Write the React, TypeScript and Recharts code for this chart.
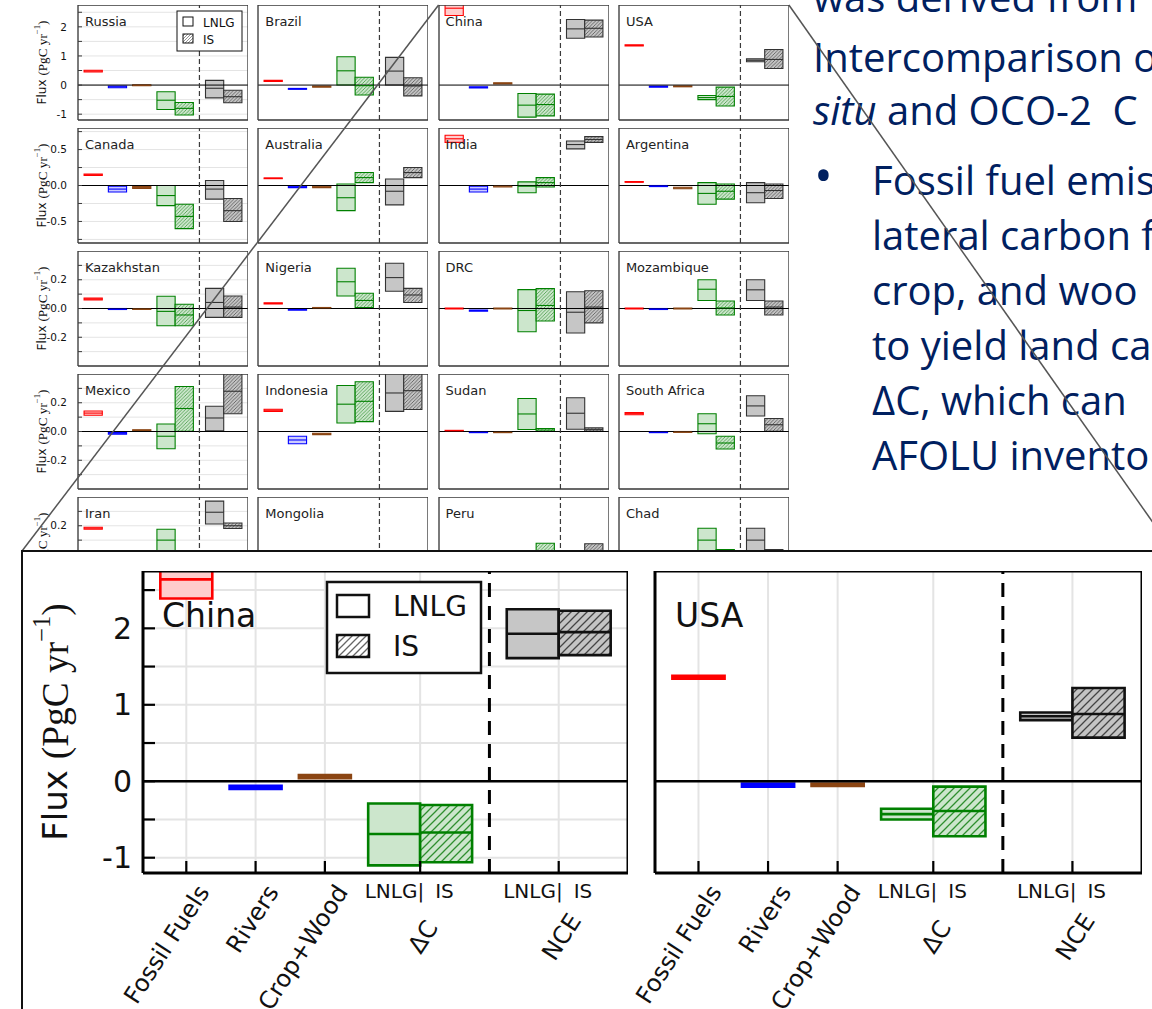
import {
  CartesianGrid,
  ComposedChart,
  ReferenceArea,
  ReferenceLine,
  Scatter,
  XAxis,
  YAxis,
} from 'recharts'

// each entry: [low, median, high] in PgC/yr
type Range = [number, number, number]
type Kind = 'ff' | 'rivers' | 'crop' | 'dcLnlg' | 'dcIs' | 'nceLnlg' | 'nceIs'

const SLOT_KIND: Kind[] = ['ff', 'rivers', 'crop', 'dcLnlg', 'dcIs', 'nceLnlg', 'nceIs']
const SLOT_X = [0, 1, 2, 3, 3.75, 5, 5.75]
const BOX_HALF = 0.375
const X_DOMAIN: [number, number] = [-0.625, 6.375]
const X_TICKS = [0, 1, 2, 3.375, 5.375]
const X_LABELS = ['Fossil Fuels', 'Rivers', 'Crop+Wood', 'ΔC', 'NCE']
const PAIR_LABELS = ['LNLG|', 'IS']
const SPLIT_X = 4.375
const LEGEND_ITEMS = [
  { name: 'LNLG', hatched: false },
  { name: 'IS', hatched: true },
]

const russia: Range[] = [[0.45, 0.48, 0.51], [-0.09, -0.06, -0.03], [-0.025, -0.01, 0.005], [-0.84, -0.52, -0.23], [-1.03, -0.8, -0.6], [-0.44, -0.11, 0.16], [-0.61, -0.4, -0.18]]
const brazil: Range[] = [[0.12, 0.14, 0.16], [-0.145, -0.13, -0.115], [-0.07, -0.05, -0.03], [0.0, 0.49, 0.97], [-0.34, -0.02, 0.27], [0.0, 0.48, 0.95], [-0.37, -0.03, 0.25]]
const china: Range[] = [[2.39, 2.64, 2.9], [-0.1, -0.08, -0.06], [0.04, 0.06, 0.08], [-1.1, -0.69, -0.29], [-1.06, -0.67, -0.31], [1.61, 1.93, 2.25], [1.65, 1.95, 2.23]]
const usa: Range[] = [[1.34, 1.36, 1.38], [-0.07, -0.05, -0.03], [-0.06, -0.045, -0.03], [-0.5, -0.43, -0.36], [-0.72, -0.39, -0.07], [0.8, 0.85, 0.9], [0.57, 0.88, 1.22]]

const canada: Range[] = [[0.14, 0.15, 0.16], [-0.09, -0.05, -0.01], [-0.04, -0.03, -0.015], [-0.28, -0.14, 0.0], [-0.6, -0.43, -0.26], [-0.19, -0.05, 0.07], [-0.5, -0.35, -0.18]]
const australia: Range[] = [[0.095, 0.1, 0.105], [-0.03, -0.02, -0.01], [-0.03, -0.02, -0.01], [-0.35, -0.17, 0.02], [0.04, 0.11, 0.18], [-0.27, -0.08, 0.09], [0.11, 0.18, 0.25]]
const india: Range[] = [[0.6, 0.65, 0.7], [-0.09, -0.05, -0.01], [-0.02, -0.01, 0.0], [-0.1, -0.01, 0.05], [-0.02, 0.04, 0.11], [0.51, 0.57, 0.62], [0.6, 0.64, 0.68]]
const argentina: Range[] = [[0.045, 0.05, 0.055], [-0.015, -0.005, 0.0], [-0.045, -0.035, -0.025], [-0.26, -0.11, 0.04], [-0.19, -0.08, 0.02], [-0.24, -0.1, 0.04], [-0.18, -0.07, 0.02]]

const kazakhstan: Range[] = [[0.06, 0.066, 0.072], [-0.007, -0.004, 0.0], [-0.006, -0.003, 0.0], [-0.12, -0.02, 0.085], [-0.12, -0.045, 0.03], [-0.062, 0.042, 0.14], [-0.062, 0.01, 0.087]]
const nigeria: Range[] = [[0.031, 0.035, 0.039], [-0.011, -0.007, -0.003], [0.0, 0.004, 0.007], [0.087, 0.186, 0.28], [0.007, 0.056, 0.106], [0.12, 0.215, 0.315], [0.042, 0.094, 0.14]]
const drc: Range[] = [[-0.003, 0.0, 0.003], [-0.018, -0.014, -0.01], [-0.003, 0.0, 0.003], [-0.162, -0.014, 0.131], [-0.087, 0.021, 0.138], [-0.17, -0.026, 0.117], [-0.1, 0.01, 0.124]]
const mozambique: Range[] = [[-0.003, 0.0, 0.003], [-0.007, -0.003, 0.0], [-0.003, 0.0, 0.003], [0.056, 0.134, 0.2], [-0.045, 0.004, 0.052], [0.056, 0.13, 0.2], [-0.045, 0.01, 0.052]]

const mexico: Range[] = [[0.113, 0.128, 0.143], [-0.018, -0.012, -0.006], [0.005, 0.009, 0.012], [-0.12, -0.033, 0.052], [0.002, 0.16, 0.313], [0.005, 0.094, 0.176], [0.124, 0.28, 0.43]]
const indonesia: Range[] = [[0.14, 0.148, 0.155], [-0.085, -0.059, -0.033], [-0.022, -0.016, -0.012], [0.059, 0.19, 0.32], [0.069, 0.21, 0.346], [0.14, 0.268, 0.42], [0.153, 0.284, 0.42]]
const sudan: Range[] = [[0.002, 0.005, 0.008], [-0.008, -0.005, -0.002], [-0.008, -0.005, -0.002], [0.014, 0.122, 0.23], [0.0, 0.01, 0.021], [0.016, 0.127, 0.235], [0.002, 0.013, 0.025]]
const southAfrica: Range[] = [[0.117, 0.124, 0.131], [-0.008, -0.005, -0.002], [-0.006, -0.003, 0.0], [-0.016, 0.054, 0.124], [-0.122, -0.08, -0.033], [0.108, 0.178, 0.249], [0.002, 0.047, 0.09]]

const iran: Range[] = [[0.176, 0.183, 0.19], [-0.01, -0.006, -0.002], [0.0, 0.003, 0.006], [0.02, 0.1, 0.176], [-0.08, -0.02, 0.02], [0.212, 0.294, 0.371], [0.181, 0.2, 0.219]]
const mongolia: Range[] = [[0.008, 0.012, 0.016], [-0.004, -0.002, 0.0], [0.0, 0.002, 0.004], [-0.1, -0.02, 0.015], [-0.12, -0.03, 0.01], [-0.09, -0.01, 0.015], [-0.1, -0.02, 0.012]]
const peru: Range[] = [[0.012, 0.016, 0.02], [-0.02, -0.015, -0.01], [-0.004, -0.002, 0.0], [-0.15, -0.03, 0.015], [-0.06, 0.01, 0.078], [-0.16, -0.03, 0.015], [-0.07, 0.0, 0.075]]
const chad: Range[] = [[0.0, 0.002, 0.004], [-0.003, -0.001, 0.0], [0.0, 0.001, 0.002], [0.02, 0.1, 0.183], [0.0, 0.017, 0.035], [0.02, 0.1, 0.183], [0.0, 0.017, 0.035]]

const GRID_NAMES = [
  ['Russia', 'Brazil', 'China', 'USA'],
  ['Canada', 'Australia', 'India', 'Argentina'],
  ['Kazakhstan', 'Nigeria', 'DRC', 'Mozambique'],
  ['Mexico', 'Indonesia', 'Sudan', 'South Africa'],
  ['Iran', 'Mongolia', 'Peru', 'Chad'],
]
const GRID_VALUES = [
  [russia, brazil, china, usa],
  [canada, australia, india, argentina],
  [kazakhstan, nigeria, drc, mozambique],
  [mexico, indonesia, sudan, southAfrica],
  [iran, mongolia, peru, chad],
]
const ROW_DOMAIN: [number, number][] = [[-1.2, 2.75], [-0.8, 0.8], [-0.4, 0.4], [-0.4, 0.4], [-0.4, 0.4]]
const ROW_TICKS = [
  [-1, -0.5, 0, 0.5, 1, 1.5, 2, 2.5],
  [-0.75, -0.5, -0.25, 0, 0.25, 0.5, 0.75],
  [-0.3, -0.2, -0.1, 0, 0.1, 0.2, 0.3],
  [-0.3, -0.2, -0.1, 0, 0.1, 0.2, 0.3],
  [-0.3, -0.2, -0.1, 0, 0.1, 0.2, 0.3],
]
const ROW_LABEL_STEP = [1, 0.5, 0.2, 0.2, 0.2]
const ROW_DIGITS = [0, 1, 1, 1, 1]

const NOTE_LINES = [
  [{ text: 'was derived from' }],
  [{ text: 'Intercomparison o' }],
  [{ text: 'situ', italic: true }, { text: ' and OCO-2  C' }],
  [{ text: 'Fossil fuel emis' }],
  [{ text: 'lateral carbon f' }],
  [{ text: 'crop, and woo' }],
  [{ text: 'to yield land ca' }],
  [{ text: 'ΔC, which can' }],
  [{ text: 'AFOLU invento' }],
]

// layout
const PAGE_W = 1152
const PAGE_H = 1009
const COL_LEFT = [78, 258.3, 438.6, 618.9]
const ROW_TOP = [5, 128, 251, 374, 497]
const INSET_LEFT = 21
const INSET_TOP = 550
const INSET_BORDER = 2
const IX = INSET_LEFT + INSET_BORDER
const IY = INSET_TOP + INSET_BORDER
const BIG_TOP = 571
const NAVY = '#002060'

type Look = {
  size: 's' | 'b'
  plotW: number
  plotH: number
  axisW: number
  bottomH: number
  frame: string
  frameW: number
  tickW: number
  tickLen: number
  tickMargin: number
  tickFont: number
  boxW: number
  gridW: number
  dash: string
  splitW: number
  zeroW: number
  nceEdge: string
}

const SMALL: Look = {
  size: 's', plotW: 170, plotH: 115, axisW: 60, bottomH: 1,
  frame: '#3a3a3a', frameW: 1.3, tickW: 1, tickLen: 4, tickMargin: 15, tickFont: 10.5,
  boxW: 1.1, gridW: 1, dash: '5 3', splitW: 1.2, zeroW: 1, nceEdge: '#333',
}
const BIG: Look = {
  size: 'b', plotW: 485, plotH: 302, axisW: 115, bottomH: 140,
  frame: '#000', frameW: 3, tickW: 2.2, tickLen: 12, tickMargin: 23, tickFont: 30,
  boxW: 2.6, gridW: 2, dash: '14 9', splitW: 3, zeroW: 2.5, nceEdge: '#111',
}

function edgeColor(kind: Kind, look: Look) {
  if (kind === 'ff') return '#ff0000'
  if (kind === 'rivers') return '#0000ff'
  if (kind === 'crop') return '#8b4513'
  if (kind === 'dcLnlg' || kind === 'dcIs') return '#008000'
  return look.nceEdge
}

function fillColor(kind: Kind, look: Look) {
  if (kind === 'ff') return '#ffcccc'
  if (kind === 'rivers') return '#ccccff'
  if (kind === 'crop') return '#e8d5c8'
  if (kind === 'dcLnlg') return '#cce6cc'
  if (kind === 'dcIs') return `url(#hatch-g-${look.size})`
  if (kind === 'nceLnlg') return '#c6c6c6'
  return `url(#hatch-k-${look.size})`
}

const tickFormat = (step: number, digits: number) => (v: number) => {
  const k = v / step
  if (Math.abs(k - Math.round(k)) > 1e-6) return ''
  return (Math.abs(v) < 1e-9 ? 0 : v).toFixed(digits)
}

function HatchDefs() {
  const defs = [
    { id: 'hatch-g-s', bg: '#cce6cc', line: '#2f8f2f', size: 3.5, w: 0.7 },
    { id: 'hatch-k-s', bg: '#c4c4c4', line: '#444', size: 3.5, w: 0.7 },
    { id: 'hatch-w-s', bg: '#ffffff', line: '#666', size: 3, w: 0.7 },
    { id: 'hatch-g-b', bg: '#cce6cc', line: '#2f8f2f', size: 8, w: 1.3 },
    { id: 'hatch-k-b', bg: '#c4c4c4', line: '#444', size: 8, w: 1.3 },
    { id: 'hatch-w-b', bg: '#ffffff', line: '#666', size: 7, w: 1.3 },
  ]
  return (
    <svg width={0} height={0} style={{ position: 'absolute' }}>
      <defs>
        {defs.map((d) => (
          <pattern key={d.id} id={d.id} width={d.size} height={d.size} patternUnits="userSpaceOnUse">
            <rect width={d.size} height={d.size} fill={d.bg} />
            <path
              d={`M0,${d.size} L${d.size},0 M${-d.size / 2},${d.size / 2} L${d.size / 2},${-d.size / 2} M${d.size / 2},${d.size * 1.5} L${d.size * 1.5},${d.size / 2}`}
              stroke={d.line}
              strokeWidth={d.w}
            />
          </pattern>
        ))}
      </defs>
    </svg>
  )
}

function BigXTick(props: any) {
  const { x, y, payload } = props
  const i = X_TICKS.indexOf(payload.value)
  if (i < 0) return null
  const font = { fontFamily: 'DejaVu Sans', fill: '#111' }
  if (i < 3) {
    return (
      <text transform={`translate(${x + 24},${y + 19}) rotate(-57)`} textAnchor="end" fontSize={24} {...font}>
        {X_LABELS[i]}
      </text>
    )
  }
  return (
    <g>
      <text x={x + 4} y={y + 25} textAnchor="end" fontSize={20} {...font}>
        {PAIR_LABELS[0]}
      </text>
      <text x={x + 15} y={y + 25} fontSize={20} {...font}>
        {PAIR_LABELS[1]}
      </text>
      <text
        transform={`translate(${x + 3},${y + 64}) rotate(-57)`}
        textAnchor="middle"
        dominantBaseline="central"
        fontSize={24}
        {...font}
      >
        {X_LABELS[i]}
      </text>
    </g>
  )
}

function FluxPanel({
  values,
  yDomain,
  yTicks,
  yFormat,
  look,
  showYTicks,
  bigTicks,
}: {
  values: Range[]
  yDomain: [number, number]
  yTicks: number[]
  yFormat: (v: number) => string
  look: Look
  showYTicks: boolean
  bigTicks?: boolean
}) {
  const half = (look.plotW / (X_DOMAIN[1] - X_DOMAIN[0])) * BOX_HALF
  const points = SLOT_X.map((x, i) => ({ x, mid: values[i][1], kind: SLOT_KIND[i] }))
  const axisLine = { stroke: look.frame, strokeWidth: look.frameW }
  const tickLine = { stroke: look.frame, strokeWidth: look.tickW }
  return (
    <ComposedChart
      width={look.axisW + look.plotW}
      height={look.plotH + look.bottomH}
      margin={{ top: 0, right: 0, bottom: 0, left: 0 }}
    >
      <CartesianGrid stroke="#e4e4e4" strokeWidth={look.gridW} />
      <XAxis
        dataKey="x"
        type="number"
        domain={X_DOMAIN}
        ticks={X_TICKS}
        interval={0}
        allowDataOverflow
        height={look.bottomH}
        tickSize={-look.tickLen}
        tickMargin={look.tickLen}
        tick={bigTicks ? (p: any) => <BigXTick {...p} /> : false}
        axisLine={axisLine}
        tickLine={tickLine}
      />
      <XAxis
        xAxisId="top"
        orientation="top"
        mirror
        type="number"
        domain={X_DOMAIN}
        ticks={X_TICKS}
        interval={0}
        allowDataOverflow
        tickSize={look.tickLen}
        tick={false}
        axisLine={axisLine}
        tickLine={tickLine}
      />
      <YAxis
        dataKey="mid"
        type="number"
        domain={yDomain}
        ticks={yTicks}
        interval={0}
        allowDataOverflow
        width={look.axisW}
        tickSize={-look.tickLen}
        tickMargin={look.tickMargin}
        tick={showYTicks ? { fontSize: look.tickFont, fill: '#111', fontFamily: 'DejaVu Sans' } : false}
        tickFormatter={yFormat}
        axisLine={axisLine}
        tickLine={tickLine}
      />
      <YAxis
        yAxisId="right"
        orientation="right"
        mirror
        type="number"
        domain={yDomain}
        ticks={yTicks}
        interval={0}
        allowDataOverflow
        tickSize={look.tickLen}
        tick={false}
        axisLine={axisLine}
        tickLine={tickLine}
      />
      <ReferenceLine y={0} stroke="#000" strokeWidth={look.zeroW} />
      <ReferenceLine x={SPLIT_X} stroke={look.frame} strokeWidth={look.splitW} strokeDasharray={look.dash} />
      {values.map((v, i) => (
        <ReferenceArea
          key={SLOT_KIND[i]}
          x1={SLOT_X[i] - BOX_HALF}
          x2={SLOT_X[i] + BOX_HALF}
          y1={v[0]}
          y2={v[2]}
          ifOverflow="hidden"
          fill={fillColor(SLOT_KIND[i], look)}
          fillOpacity={1}
          stroke={edgeColor(SLOT_KIND[i], look)}
          strokeWidth={look.boxW}
        />
      ))}
      <Scatter
        data={points}
        dataKey="mid"
        isAnimationActive={false}
        shape={(p: any) => (
          <line
            x1={p.cx - half}
            x2={p.cx + half}
            y1={p.cy}
            y2={p.cy}
            stroke={edgeColor(p.payload.kind, look)}
            strokeWidth={look.boxW}
          />
        )}
      />
    </ComposedChart>
  )
}

function FluxLabel({ cx, cy, size }: { cx: number; cy: number; size: number }) {
  const m = size * 1.1
  return (
    <text transform={`translate(${cx},${cy}) rotate(-90)`} textAnchor="middle" dominantBaseline="central" fill="#111">
      <tspan fontFamily="DejaVu Sans" fontSize={size}>
        Flux{' '}
      </tspan>
      <tspan fontFamily="Liberation Serif" fontSize={m}>
        (PgC yr
      </tspan>
      <tspan fontFamily="Liberation Serif" fontSize={size * 0.72} dy={-size * 0.42}>
        −1
      </tspan>
      <tspan fontFamily="Liberation Serif" fontSize={m} dy={size * 0.42}>
        )
      </tspan>
    </text>
  )
}

function LegendBox({ x, y, big }: { x: number; y: number; big?: boolean }) {
  const k = big
    ? { w: 154, h: 91, sqX: 10, sqY: 13, sqW: 32, sqH: 22, gap: 40, tx: 66, base: 21, font: 28, sw: 2.5 }
    : { w: 65, h: 40, sqX: 6, sqY: 6, sqW: 10, sqH: 9, gap: 17, tx: 26, base: 9.5, font: 12, sw: 1 }
  return (
    <g>
      <rect x={x} y={y} width={k.w} height={k.h} fill="#fff" stroke="#111" strokeWidth={k.sw} />
      {LEGEND_ITEMS.map((it, i) => (
        <g key={it.name}>
          <rect
            x={x + k.sqX}
            y={y + k.sqY + i * k.gap}
            width={k.sqW}
            height={k.sqH}
            fill={it.hatched ? `url(#hatch-w-${big ? 'b' : 's'})` : '#fff'}
            stroke="#111"
            strokeWidth={k.sw}
          />
          <text
            x={x + k.tx}
            y={y + k.sqY + i * k.gap + k.base}
            fontSize={k.font}
            fontFamily="DejaVu Sans"
            fill="#111"
          >
            {it.name}
          </text>
        </g>
      ))}
    </g>
  )
}

function GridOverlay() {
  return (
    <svg width={PAGE_W} height={PAGE_H} style={{ position: 'absolute', left: 0, top: 0 }}>
      {GRID_NAMES.map((row, r) =>
        row.map((name, c) => (
          <text
            key={name}
            x={COL_LEFT[c] + 7}
            y={ROW_TOP[r] + 21}
            fontSize={13}
            fontFamily="DejaVu Sans"
            fill="#222"
          >
            {name}
          </text>
        )),
      )}
      {ROW_TOP.map((t) => (
        <FluxLabel key={t} cx={42} cy={t + SMALL.plotH / 2} size={12} />
      ))}
      <LegendBox x={177} y={11} />
    </svg>
  )
}

function NoteText() {
  const baselines = [12, 72, 125, 195, 250, 305, 360, 415, 470]
  return (
    <svg width={PAGE_W} height={560} style={{ position: 'absolute', left: 0, top: 0 }}>
      <text x={814} y={baselines[3] - 2} fontSize={50} fontFamily="Open Sans" fill={NAVY}>
        •
      </text>
      {NOTE_LINES.map((parts, i) => (
        <text
          key={i}
          x={i < 3 ? 813 : 872}
          y={baselines[i]}
          fontSize={40}
          fontFamily="Open Sans"
          fill={NAVY}
          style={{ whiteSpace: 'pre' }}
        >
          {parts.map((p, j) => (
            <tspan key={j} fontStyle={'italic' in p && p.italic ? 'italic' : 'normal'}>
              {p.text}
            </tspan>
          ))}
        </text>
      ))}
    </svg>
  )
}

function ZoomLines() {
  return (
    <svg width={PAGE_W} height={PAGE_H} style={{ position: 'absolute', left: 0, top: 0 }}>
      <line x1={COL_LEFT[2]} y1={ROW_TOP[0]} x2={INSET_LEFT + 1} y2={INSET_TOP + 1} stroke="#555" strokeWidth={1.5} />
      <line x1={COL_LEFT[3] + SMALL.plotW} y1={ROW_TOP[0]} x2={1173} y2={INSET_TOP + 1} stroke="#555" strokeWidth={1.5} />
    </svg>
  )
}

function Inset() {
  const chinaLeft = 143
  const usaLeft = 655
  const usaLook: Look = { ...BIG, axisW: 20, plotW: 487 }
  const yFormat = tickFormat(ROW_LABEL_STEP[0], ROW_DIGITS[0])
  return (
    <div
      style={{
        position: 'absolute',
        left: INSET_LEFT,
        top: INSET_TOP,
        width: 1220,
        height: 520,
        border: `${INSET_BORDER}px solid #111`,
        background: '#fff',
        overflow: 'hidden',
        boxSizing: 'border-box',
      }}
    >
      <div style={{ position: 'absolute', left: chinaLeft - BIG.axisW - IX, top: BIG_TOP - IY }}>
        <FluxPanel values={china} yDomain={ROW_DOMAIN[0]} yTicks={ROW_TICKS[0]} yFormat={yFormat} look={BIG} showYTicks bigTicks />
      </div>
      <div style={{ position: 'absolute', left: usaLeft - usaLook.axisW - IX, top: BIG_TOP - IY }}>
        <FluxPanel values={usa} yDomain={ROW_DOMAIN[0]} yTicks={ROW_TICKS[0]} yFormat={yFormat} look={usaLook} showYTicks={false} bigTicks />
      </div>
      <svg width={1200} height={500} style={{ position: 'absolute', left: 0, top: 0 }}>
        <text x={162 - IX} y={627 - IY} fontSize={33} fontFamily="DejaVu Sans" fill="#111">
          {GRID_NAMES[0][2]}
        </text>
        <text x={675 - IX} y={627 - IY} fontSize={33} fontFamily="DejaVu Sans" fill="#111">
          {GRID_NAMES[0][3]}
        </text>
        <FluxLabel cx={55 - IX} cy={BIG_TOP + BIG.plotH / 2 - IY} size={34} />
        <LegendBox x={327 - IX} y={582 - IY} big />
      </svg>
    </div>
  )
}

export default function App() {
  return (
    <div
      style={{
        position: 'absolute',
        left: 0,
        top: 0,
        width: PAGE_W,
        height: PAGE_H,
        overflow: 'hidden',
        background: '#fff',
      }}
    >
      <HatchDefs />
      {GRID_VALUES.map((row, r) =>
        row.map((vals, c) => {
          const look: Look = { ...SMALL, axisW: c === 0 ? 60 : 6 }
          return (
            <div
              key={GRID_NAMES[r][c]}
              style={{ position: 'absolute', left: COL_LEFT[c] - look.axisW, top: ROW_TOP[r] }}
            >
              <FluxPanel
                values={vals}
                yDomain={ROW_DOMAIN[r]}
                yTicks={ROW_TICKS[r]}
                yFormat={tickFormat(ROW_LABEL_STEP[r], ROW_DIGITS[r])}
                look={look}
                showYTicks={c === 0}
              />
            </div>
          )
        }),
      )}
      <GridOverlay />
      <NoteText />
      <ZoomLines />
      <Inset />
    </div>
  )
}
